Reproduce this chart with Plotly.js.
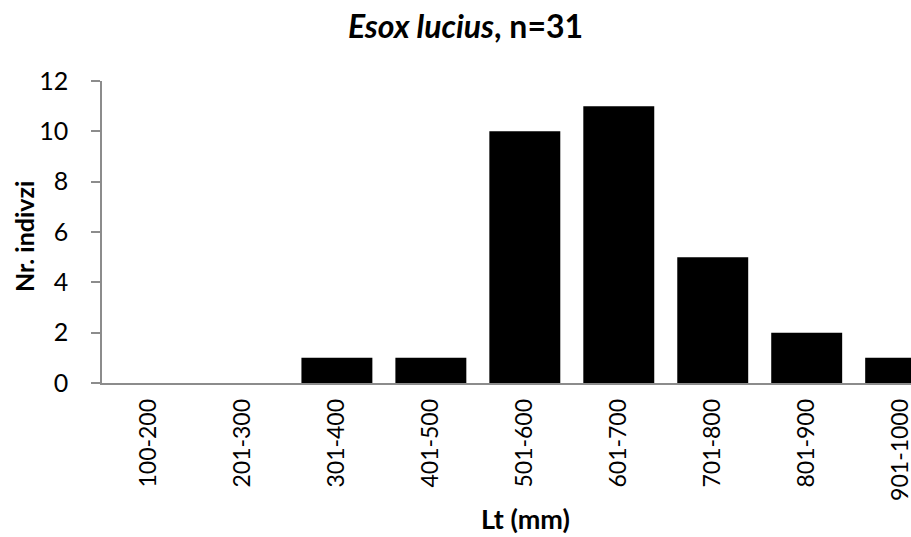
<!DOCTYPE html>
<html>
<head>
<meta charset="utf-8">
<script src="https://cdn.plot.ly/plotly-3.0.1.min.js"></script>
<style>html,body{margin:0;padding:0;background:#fff;overflow:hidden;}#chart{width:911px;height:537px;}</style>
</head>
<body>
<div id="chart"></div>
<script>
const categories = ["100-200","201-300","301-400","401-500","501-600","601-700","701-800","801-900","901-1000"];
const counts = [0, 0, 1, 1, 10, 11, 5, 2, 1];
const yTicks = [0, 2, 4, 6, 8, 10, 12];

const FONT = "Lato, 'Open Sans', sans-serif";

const trace = {
  type: "bar",
  x: categories,
  y: counts,
  marker: {color: "#000000", line: {width: 0}},
  hoverinfo: "x+y"
};

const layout = {
  width: 911, height: 537,
  margin: {l: 102, r: 0, t: 81, b: 154},
  paper_bgcolor: "#ffffff", plot_bgcolor: "#ffffff",
  bargap: 0.245,
  showlegend: false,
  font: {family: FONT, color: "#000000"},
  title: {
    text: "<b><i>Esox lucius</i>, n=31</b>",
    font: {family: FONT, size: 32, color: "#000000"},
    x: 0.511, xanchor: "center", y: 0.95, yanchor: "middle"
  },
  xaxis: {
    type: "category",
    range: [-0.5, 8.11],
    tickangle: -90,
    tickfont: {family: FONT, size: 23, color: "#000000"},
    showline: true, linecolor: "#8c8c8c", linewidth: 1.5,
    ticks: "", showgrid: false, zeroline: false,
    ticklabelstandoff: 5,
    automargin: false
  },
  yaxis: {
    range: [0, 12],
    tickvals: yTicks,
    ticktext: yTicks.map(String),
    tickfont: {family: FONT, size: 25, color: "#000000"},
    showline: true, linecolor: "#8c8c8c", linewidth: 1.5,
    ticks: "outside", ticklen: 9, tickcolor: "#8c8c8c", tickwidth: 1.5,
    ticklabelstandoff: 18,
    showgrid: false, zeroline: false,
    automargin: false
  },
  annotations: [
    {
      text: "<b>Lt (mm)</b>",
      xref: "paper", yref: "paper",
      x: 0.524, y: -0.448, xanchor: "center", yanchor: "middle",
      showarrow: false,
      font: {family: FONT, size: 27, color: "#000000"}
    },
    {
      text: "<b>Nr. indivzi</b>",
      xref: "paper", yref: "paper",
      x: -0.097, y: 0.485, xanchor: "center", yanchor: "middle",
      textangle: -90,
      showarrow: false,
      font: {family: FONT, size: 25, color: "#000000"}
    }
  ]
};

Plotly.newPlot("chart", [trace], layout, {displayModeBar: false, responsive: false});
</script>
</body>
</html>
